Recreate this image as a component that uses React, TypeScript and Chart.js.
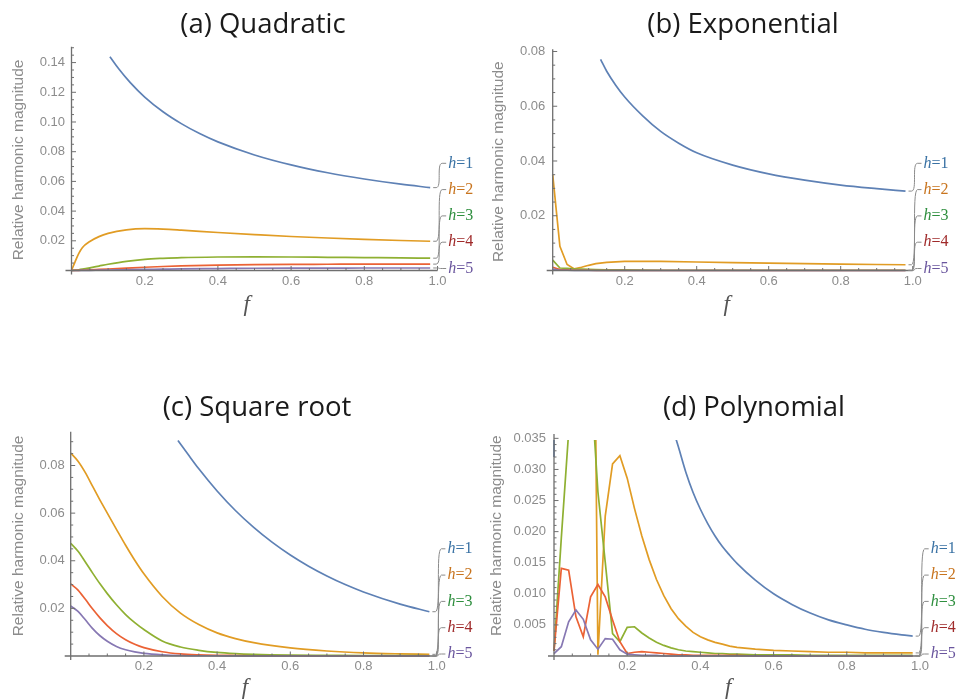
import React, { useEffect, useRef } from 'react';
import { Chart, registerables } from 'chart.js';

Chart.register(...registerables);

// ---------------- data ----------------
const harmonics = ['1', '2', '3', '4', '5'];
const xTicks = [0.2, 0.4, 0.6, 0.8, 1.0];
const yTicksA = [0.02, 0.04, 0.06, 0.08, 0.1, 0.12, 0.14];
const yTicksB = [0.02, 0.04, 0.06, 0.08];
const yTicksC = [0.02, 0.04, 0.06, 0.08];
const yTicksD = [0.005, 0.01, 0.015, 0.02, 0.025, 0.03, 0.035];

// (a) Quadratic
const fA = [0, 0.01, 0.02, 0.03, 0.05, 0.075, 0.1, 0.15, 0.2, 0.25, 0.3, 0.4, 0.5, 0.6, 0.7, 0.8, 0.9, 0.98];
const fA1 = [0.105, 0.13, 0.16, 0.2, 0.25, 0.3, 0.35, 0.4, 0.5, 0.6, 0.7, 0.8, 0.9, 0.98];
const aH1 = [0.144, 0.1355, 0.1267, 0.1168, 0.1069, 0.0989, 0.0922, 0.0866, 0.0778, 0.0711, 0.0658, 0.0616, 0.0581, 0.0558];
const aH2 = [0, 0.006, 0.0115, 0.0155, 0.0195, 0.0228, 0.025, 0.0274, 0.0282, 0.0279, 0.0272, 0.0256, 0.0242, 0.0229, 0.0219, 0.021, 0.0202, 0.0197];
const aH3 = [0, 0.0002, 0.0005, 0.0009, 0.0018, 0.003, 0.0042, 0.0062, 0.0075, 0.0082, 0.0087, 0.0091, 0.0092, 0.0091, 0.0089, 0.0087, 0.0085, 0.0083];
const aH4 = [0, 0.0001, 0.0001, 0.0002, 0.0004, 0.0007, 0.001, 0.0016, 0.0022, 0.0027, 0.0031, 0.0036, 0.0039, 0.0041, 0.0042, 0.0043, 0.0043, 0.0043];
const aH5 = [0, 0, 0, 0.0001, 0.0001, 0.0002, 0.0003, 0.0005, 0.0007, 0.0009, 0.0011, 0.0013, 0.0015, 0.0016, 0.0016, 0.0017, 0.0017, 0.0017];

// (b) Exponential
const fB = [0, 0.02, 0.04, 0.06, 0.08, 0.1, 0.12, 0.15, 0.2, 0.3, 0.4, 0.5, 0.6, 0.7, 0.8, 0.9, 0.98];
const fB1 = [0.133, 0.15, 0.175, 0.2, 0.25, 0.3, 0.35, 0.4, 0.5, 0.6, 0.7, 0.8, 0.9, 0.98];
const bH1 = [0.0771, 0.0728, 0.0677, 0.0634, 0.0565, 0.0508, 0.0465, 0.043, 0.0385, 0.0353, 0.033, 0.0312, 0.0299, 0.029];
const bH2 = [0.035, 0.0088, 0.0022, 0.0006, 0.0012, 0.0019, 0.0025, 0.003, 0.0033, 0.0033, 0.0031, 0.0029, 0.0027, 0.0025, 0.0023, 0.0022, 0.0021];
const bH3 = [0.0038, 0.0009, 0.0008, 0.0006, 0.0005, 0.0004, 0.0003, 0.0002, 0.0002, 0.0001, 0.0001, 0.0001, 0.0001, 0.0001, 0.0001, 0.0001, 0.0001];
const bH4 = [0.0012, 0.0003, 0.0002, 0.0001, 0.0001, 0.0001, 0, 0, 0, 0, 0, 0, 0, 0, 0, 0, 0];
const bH5 = [0.0005, 0.0001, 0.0001, 0, 0, 0, 0, 0, 0, 0, 0, 0, 0, 0, 0, 0, 0];

// (c) Square root
const fC = [0, 0.02, 0.04, 0.06, 0.08, 0.1, 0.125, 0.15, 0.175, 0.2, 0.25, 0.3, 0.35, 0.4, 0.45, 0.5, 0.6, 0.7, 0.8, 0.9, 0.98];
const fC1 = [0.293, 0.32, 0.35, 0.4, 0.45, 0.5, 0.55, 0.6, 0.65, 0.7, 0.75, 0.8, 0.9, 0.98];
const cH1 = [0.0905, 0.0848, 0.0786, 0.0693, 0.0611, 0.054, 0.0478, 0.0424, 0.0377, 0.0336, 0.03, 0.0269, 0.0218, 0.0186];
const cH2 = [0.0852, 0.0818, 0.077, 0.0712, 0.0655, 0.06, 0.0532, 0.0465, 0.0402, 0.0345, 0.025, 0.018, 0.0132, 0.0097, 0.0073, 0.0056, 0.0034, 0.0021, 0.0013, 0.0009, 0.0007];
const cH3 = [0.0473, 0.044, 0.0395, 0.0348, 0.0303, 0.0262, 0.0215, 0.0174, 0.014, 0.0111, 0.0063, 0.0038, 0.0024, 0.0015, 0.001, 0.0007, 0.0004, 0.0003, 0.0002, 0.0002, 0.0001];
const cH4 = [0.0303, 0.0277, 0.0238, 0.0197, 0.016, 0.0128, 0.0094, 0.0068, 0.0049, 0.0035, 0.0018, 0.0009, 0.0005, 0.0003, 0.0002, 0.0001, 0.0001, 0, 0, 0, 0];
const cH5 = [0.021, 0.0187, 0.0152, 0.0115, 0.0085, 0.0062, 0.004, 0.0026, 0.0017, 0.0011, 0.0005, 0.0002, 0.0001, 0.0001, 0, 0, 0, 0, 0, 0, 0];

// (d) Polynomial
const fD = [0, 0.02, 0.04, 0.06, 0.08, 0.1, 0.12, 0.14, 0.16, 0.18, 0.2, 0.22, 0.24, 0.26, 0.28, 0.3, 0.32, 0.34, 0.36, 0.38, 0.4, 0.42, 0.44, 0.46, 0.48, 0.5,
  0.55, 0.6, 0.65, 0.7, 0.75, 0.8, 0.85, 0.9, 0.95, 0.98];
const dH1 = [0.032, 0.6, 0.45, 0.35, 0.28, 0.22, 0.18, 0.15, 0.12, 0.1, 0.085, 0.072, 0.062, 0.054, 0.047, 0.042, 0.0375, 0.0336, 0.0296, 0.0263, 0.0236, 0.0213, 0.0193, 0.0176, 0.0162, 0.0149,
  0.0122, 0.01, 0.0083, 0.0069, 0.0058, 0.005, 0.0043, 0.0038, 0.0034, 0.0032];
const dH2 = [0.5, 0.4, 0.3, 0.22, 0.16, 0.12, 0.0002, 0.0225, 0.0309, 0.0322, 0.0286, 0.0237, 0.0193, 0.0155, 0.0123, 0.0097, 0.0076, 0.006, 0.0048, 0.0038, 0.0031, 0.0026, 0.0022, 0.0019, 0.0016, 0.0014,
  0.0011, 0.0009, 0.0008, 0.0007, 0.0006, 0.0006, 0.0005, 0.0005, 0.0005, 0.0005];
const dH3 = [0.0008, 0.019, 0.036, 0.08, 0.07, 0.045, 0.0264, 0.0151, 0.0036, 0.0023, 0.0046, 0.0047, 0.0037, 0.0029, 0.0022, 0.0017, 0.0013, 0.001, 0.0008, 0.0007, 0.0006, 0.0005, 0.0004, 0.0004, 0.0003, 0.0003,
  0.0002, 0.0002, 0.0002, 0.0001, 0.0001, 0.0001, 0.0001, 0.0001, 0.0001, 0.0001];
const dH4 = [0.0008, 0.0141, 0.0138, 0.0063, 0.0031, 0.0095, 0.0115, 0.0095, 0.0058, 0.0023, 0.0004, 0.0006, 0.0007, 0.0006, 0.0005, 0.0004, 0.0003, 0.0002, 0.0002, 0.0001, 0.0001, 0.0001, 0.0001, 0.0001, 0.0001, 0.0001,
  0, 0, 0, 0, 0, 0, 0, 0, 0, 0];
const dH5 = [0.0004, 0.0015, 0.0055, 0.0074, 0.0059, 0.0026, 0.0011, 0.0028, 0.0027, 0.001, 0.0003, 0.0002, 0.0001, 0.0001, 0.0001, 0, 0, 0, 0, 0, 0, 0, 0, 0, 0, 0,
  0, 0, 0, 0, 0, 0, 0, 0, 0, 0];

// ---------------- styles ----------------
const LINE_COLORS = ['#5E81B5', '#E19C24', '#8FB032', '#EB6235', '#8778B3'];
const LABEL_COLORS = ['#3a72a4', '#c8741e', '#2f8f3f', '#a02b2b', '#6a569e'];
const AXIS_COLOR = '#6f6f6f';
const TICK_TEXT = '#8c8c8c';
const LEADER_COLOR = '#8a8a8a';
const W = 479;
const H = 350;

type Series = { x: number[]; y: number[] };
type PanelCfg = {
  key: string;
  title: string;
  left: number;
  top: number;
  area: { left: number; right: number; top: number; bottom: number };
  yMax: number;
  yTicks: number[];
  yMinor: number;
  yDec: number;
  yPad: number;
  smooth: boolean[];
  clipTop: number;
  titlePos: [number, number];
  yTitlePos: [number, number];
  fPos: [number, number];
  series: Series[];
};

const PANELS: PanelCfg[] = [
  {
    key: 'a', title: '(a) Quadratic', left: 0, top: 0,
    area: { left: 71.5, right: 437.5, top: 46.7, bottom: 270.5 },
    yMax: 0.1507, yTicks: yTicksA, yMinor: 0.005, yDec: 2, yPad: 6.5,
    smooth: [true, true, true, true, true], clipTop: 1,
    titlePos: [263, 33], yTitlePos: [18.3, 160], fPos: [246.7, 305],
    series: [
      { x: fA1, y: aH1 }, { x: fA, y: aH2 }, { x: fA, y: aH3 }, { x: fA, y: aH4 }, { x: fA, y: aH5 },
    ],
  },
  {
    key: 'b', title: '(b) Exponential', left: 479, top: 0,
    area: { left: 73.7, right: 433.7, top: 49.3, bottom: 270.5 },
    yMax: 0.0808, yTicks: yTicksB, yMinor: 0.005, yDec: 2, yPad: 7.5,
    smooth: [true, false, false, false, false], clipTop: 1,
    titlePos: [264, 33], yTitlePos: [19.3, 161.7], fPos: [247.7, 305],
    series: [
      { x: fB1, y: bH1 }, { x: fB, y: bH2 }, { x: fB, y: bH3 }, { x: fB, y: bH4 }, { x: fB, y: bH5 },
    ],
  },
  {
    key: 'c', title: '(c) Square root', left: 0, top: 350,
    area: { left: 70.7, right: 436.7, top: 81.7, bottom: 306 },
    yMax: 0.0942, yTicks: yTicksC, yMinor: 0.005, yDec: 2, yPad: 6,
    smooth: [true, true, true, true, true], clipTop: 1,
    titlePos: [257, 66], yTitlePos: [18.3, 186], fPos: [245, 338],
    series: [
      { x: fC1, y: cH1 }, { x: fC, y: cH2 }, { x: fC, y: cH3 }, { x: fC, y: cH4 }, { x: fC, y: cH5 },
    ],
  },
  {
    key: 'd', title: '(d) Polynomial', left: 479, top: 350,
    area: { left: 75, right: 441, top: 84, bottom: 306 },
    yMax: 0.0357, yTicks: yTicksD, yMinor: 0.001, yDec: 3, yPad: 8,
    smooth: [true, false, false, false, false], clipTop: -6,
    titlePos: [275, 66], yTitlePos: [17.7, 185.7], fPos: [249.3, 338],
    series: [
      { x: fD, y: dH1 }, { x: fD, y: dH2 }, { x: fD, y: dH3 }, { x: fD, y: dH4 }, { x: fD, y: dH5 },
    ],
  },
];

function makeDecor(p: PanelCfg) {
  return {
    id: 'decor' + p.key,
    afterDraw(chart: any) {
      const ctx: CanvasRenderingContext2D = chart.ctx;
      const ca = chart.chartArea;
      const xs = chart.scales.x;
      const ys = chart.scales.y;
      const x0 = xs.getPixelForValue(0);
      const y0 = ys.getPixelForValue(0);
      ctx.save();

      // axes
      ctx.strokeStyle = AXIS_COLOR;
      ctx.lineWidth = 1.3;
      ctx.beginPath();
      ctx.moveTo(x0 - 6, y0);
      ctx.lineTo(xs.getPixelForValue(1.0), y0);
      ctx.moveTo(x0, ca.top);
      ctx.lineTo(x0, y0 + 4);
      ctx.stroke();

      // tick marks
      ctx.lineWidth = 1;
      ctx.beginPath();
      for (let k = 1; k <= 20; k++) {
        const v = k * 0.05;
        const major = xTicks.some((t) => Math.abs(t - v) < 1e-9);
        const px = xs.getPixelForValue(v);
        ctx.moveTo(px, y0);
        ctx.lineTo(px, y0 - (major ? 4.5 : 2.5));
      }
      for (let k = 1; k * p.yMinor <= p.yMax + 1e-12; k++) {
        const v = k * p.yMinor;
        const major = p.yTicks.some((t) => Math.abs(t - v) < 1e-9);
        const py = ys.getPixelForValue(v);
        ctx.moveTo(x0, py);
        ctx.lineTo(x0 + (major ? 4.5 : 2.5), py);
      }
      ctx.stroke();

      // leaders and labels
      p.series.forEach((s, i) => {
        const lx = s.x[s.x.length - 1];
        const lyv = s.y[s.y.length - 1];
        const ex = xs.getPixelForValue(lx) + 3;
        const ey = ys.getPixelForValue(lyv);
        const ly = ca.bottom - 2 - (4 - i) * 26.3;
        ctx.strokeStyle = LEADER_COLOR;
        ctx.lineWidth = 1;
        ctx.beginPath();
        ctx.moveTo(ex, ey);
        ctx.lineTo(ex + 3, ey);
        ctx.bezierCurveTo(ex + 9, ey, ex + 3, ly, ex + 9, ly);
        ctx.lineTo(ex + 13, ly);
        ctx.stroke();
        ctx.fillStyle = LABEL_COLORS[i];
        ctx.textAlign = 'left';
        ctx.textBaseline = 'middle';
        ctx.font = 'italic 16px "Liberation Serif"';
        ctx.fillText('h', ex + 15, ly);
        const w = ctx.measureText('h').width;
        ctx.font = '16px "Liberation Serif"';
        ctx.fillText('=' + harmonics[i], ex + 15 + w, ly);
      });

      // title
      ctx.fillStyle = '#1a1a1a';
      ctx.textAlign = 'center';
      ctx.textBaseline = 'alphabetic';
      ctx.font = '27.5px "Open Sans"';
      ctx.fillText(p.title, p.titlePos[0], p.titlePos[1]);

      // y title
      ctx.save();
      ctx.translate(p.yTitlePos[0], p.yTitlePos[1]);
      ctx.rotate(-Math.PI / 2);
      ctx.fillStyle = TICK_TEXT;
      ctx.textBaseline = 'middle';
      ctx.font = '15.5px "Liberation Sans"';
      ctx.fillText('Relative harmonic magnitude', 0, 0);
      ctx.restore();

      // x title
      ctx.fillStyle = '#555555';
      ctx.textAlign = 'center';
      ctx.textBaseline = 'middle';
      ctx.font = 'italic 23px "Liberation Serif"';
      ctx.fillText('f', p.fPos[0], p.fPos[1]);

      ctx.restore();
    },
  };
}

function PanelChart({ p }: { p: PanelCfg }) {
  const ref = useRef<HTMLCanvasElement>(null);
  useEffect(() => {
    if (!ref.current) return;
    const datasets = p.series.map((s, i) => ({
      label: 'h=' + harmonics[i],
      data: s.x.map((x, j) => ({ x, y: s.y[j] })),
      borderColor: LINE_COLORS[i],
      backgroundColor: LINE_COLORS[i],
      borderWidth: 1.7,
      pointRadius: 0,
      fill: false,
      order: 4 - i,
      tension: 0,
      cubicInterpolationMode: p.smooth[i] ? 'monotone' : 'default',
      clip: { left: 2, right: 2, bottom: 2, top: p.clipTop },
    }));
    const tickFont = { family: '"Liberation Sans", Arial, sans-serif', size: 13 };
    const chart = new Chart(ref.current, {
      type: 'line',
      data: { datasets } as any,
      options: {
        responsive: false,
        animation: false,
        events: [],
        layout: { padding: { left: 0, top: p.area.top, right: W - p.area.right, bottom: 0 } },
        plugins: { legend: { display: false }, tooltip: { enabled: false }, title: { display: false } },
        scales: {
          x: {
            type: 'linear',
            min: 0,
            max: 1.0,
            grid: { display: false, drawTicks: false, tickLength: 0 },
            border: { display: false },
            ticks: {
              color: TICK_TEXT,
              font: tickFont,
              padding: 3,
              autoSkip: false,
              maxRotation: 0,
              callback: (v: any) => Number(v).toFixed(1),
            },
            afterBuildTicks: (s: any) => {
              s.ticks = xTicks.map((v) => ({ value: v }));
            },
            afterFit: (s: any) => {
              s.height = H - p.area.bottom;
            },
          },
          y: {
            type: 'linear',
            min: 0,
            max: p.yMax,
            grid: { display: false, drawTicks: false, tickLength: 0 },
            border: { display: false },
            ticks: {
              color: TICK_TEXT,
              font: tickFont,
              padding: p.yPad,
              autoSkip: false,
              callback: (v: any) => Number(v).toFixed(p.yDec),
            },
            afterBuildTicks: (s: any) => {
              s.ticks = p.yTicks.map((v) => ({ value: v }));
            },
            afterFit: (s: any) => {
              s.width = p.area.left;
            },
          },
        },
      } as any,
      plugins: [makeDecor(p)],
    });
    return () => chart.destroy();
  }, [p]);
  return (
    <div style={{ position: 'absolute', left: p.left, top: p.top, width: W, height: H }}>
      <canvas ref={ref} width={W} height={H} style={{ width: W, height: H, display: 'block' }} />
    </div>
  );
}

export default function App() {
  return (
    <div style={{ position: 'fixed', left: 0, top: 0, width: 958, height: 700, background: '#ffffff', overflow: 'hidden' }}>
      {PANELS.map((p) => (
        <PanelChart key={p.key} p={p} />
      ))}
    </div>
  );
}
